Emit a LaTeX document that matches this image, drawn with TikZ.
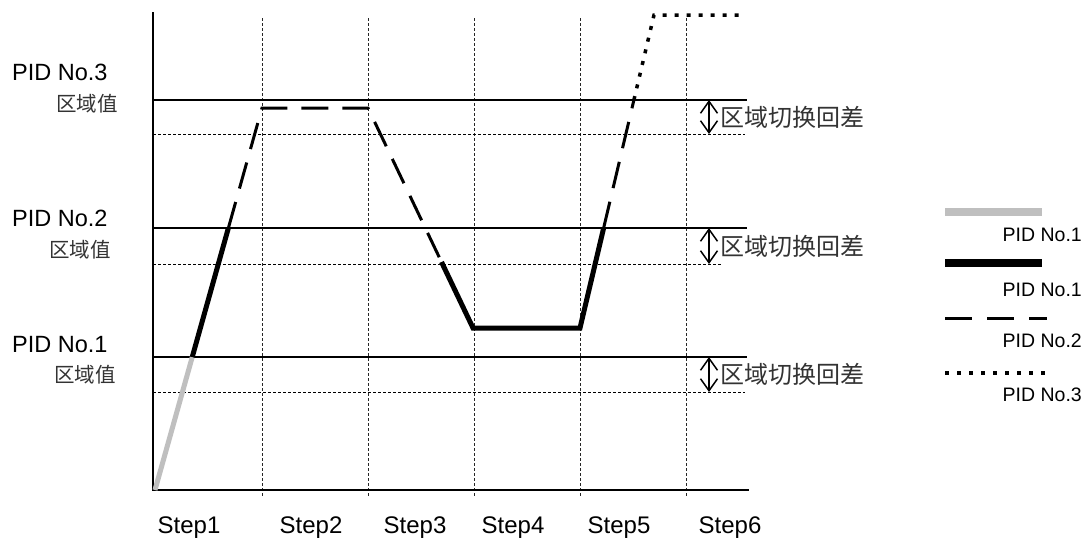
\documentclass[tikz,border=0pt]{standalone}
\usepackage{fontspec}
\setmainfont{Liberation Sans}
\newfontfamily\cjk{Noto Sans CJK SC}
\usetikzlibrary{arrows.meta,calc}
\begin{document}
\begin{tikzpicture}[x=1pt,y=-1pt,
  gridline/.style={line width=0.9pt, dash pattern=on 3pt off 2pt, black!85},
  zone/.style={line width=1.9pt},
  hysline/.style={line width=1pt, dash pattern=on 3pt off 2pt},
  axisline/.style={line width=1.9pt},
  pidgray/.style={line width=5pt, black!25},
  pidthick/.style={line width=5pt},
  piddash/.style={line width=3pt, dash pattern=on 27pt off 14pt},
  piddot/.style={line width=3.5pt, dash pattern=on 4pt off 8pt},
  pidlbl/.style={font=\fontsize{23.5}{26}\selectfont, anchor=base west, inner sep=0pt},
  zonelbl/.style={font=\cjk\fontsize{20.5}{22}\selectfont, text=black!80, inner sep=0pt},
  hyslbl/.style={font=\cjk\fontsize{24}{26}\selectfont, text=black!80, anchor=west, inner sep=0pt},
  steplbl/.style={font=\fontsize{24}{26}\selectfont, anchor=base, inner sep=0pt},
  leglbl/.style={font=\fontsize{19.5}{22}\selectfont, anchor=base east, inner sep=0pt},
  hysarrow/.style={line width=1.5pt, {Straight Barb[length=12pt,width=17pt]}-{Straight Barb[length=12pt,width=17pt]}}
]
\useasboundingbox (0,0) rectangle (1086,538);
\fill[white] (0,0) rectangle (1086,538);

% vertical grid
\foreach \x in {262,368,474,580,686} \draw[gridline] (\x,18) -- (\x,496);

% zone lines
\foreach \y/\d/\e in {100/134/745, 228/264/722, 357/392/745} {
  \draw[zone] (153,\y) -- (747,\y);
  \draw[hysline] (153,\d) -- (\e,\d);
}

% axes
\draw[axisline] (153,12) -- (153,490) -- (749,490);

% hysteresis arrows and labels
\foreach \y/\d/\n in {100/134/a, 228/264/b, 357/392/c} {
  \coordinate (ht\n) at (709,\y);
  \coordinate (hb\n) at (709,\d);
  \draw[hysarrow] (ht\n) -- (hb\n);
  \node[hyslbl] (hl\n) at (720,{(\y+\d)/2}) {区域切换回差};
}

% curve
\coordinate (p0) at (155,490);
\coordinate (p1) at (262,108);
\coordinate (p2) at (368,108);
\coordinate (p3) at (473,328);
\coordinate (p4) at (580,328);
\coordinate (p5) at (654,15);
\coordinate (p6) at (745,15);
\coordinate (q1) at ($(p0)!{133/382}!(p1)$);
\coordinate (q2) at ($(p0)!{262/382}!(p1)$);
\coordinate (q3) at ($(p2)!{154/220}!(p3)$);
\coordinate (q4) at ($(p4)!{100/313}!(p5)$);
\coordinate (q5) at ($(p4)!{228/313}!(p5)$);
\draw[pidgray] (p0) -- (q1);
\draw[pidthick] (q1) -- (q2);
\draw[piddash] (q2) -- (p1) -- (p2) -- (q3);
\draw[pidthick, line join=miter] (q3) -- (p3) -- (p4) -- (q4);
\draw[piddash] (q4) -- (q5);
\draw[piddot] (q5) -- (p5) -- (p6);

% left labels
\node[pidlbl] (l3) at (12,80) {PID No.3};
\node[zonelbl] (z3) at (87,104) {区域值};
\node[pidlbl] (l2) at (12,226) {PID No.2};
\node[zonelbl] (z2) at (80,250) {区域值};
\node[pidlbl] (l1) at (12,352) {PID No.1};
\node[zonelbl] (z1) at (85,375) {区域值};

% step labels
\node[steplbl] (s1) at (189,533) {Step1};
\node[steplbl] (s2) at (311,533) {Step2};
\node[steplbl] (s3) at (415,533) {Step3};
\node[steplbl] (s4) at (513,533) {Step4};
\node[steplbl] (s5) at (619,533) {Step5};
\node[steplbl] (s6) at (730,533) {Step6};

% legend
\draw[line width=8pt, black!25] (945,212) -- (1042,212);
\node[leglbl] (g1) at (1082,241) {PID No.1};
\draw[line width=8pt] (945,263) -- (1042,263);
\node[leglbl] (g2) at (1082,296) {PID No.1};
\draw[line width=3pt, dash pattern=on 27pt off 15pt] (945,318) -- (1047,318);
\node[leglbl] (g3) at (1082,347) {PID No.2};
\draw[line width=3.5pt, dash pattern=on 4pt off 8pt] (945,373) -- (1045,373);
\node[leglbl] (g4) at (1082,401) {PID No.3};
\end{tikzpicture}
\end{document}
